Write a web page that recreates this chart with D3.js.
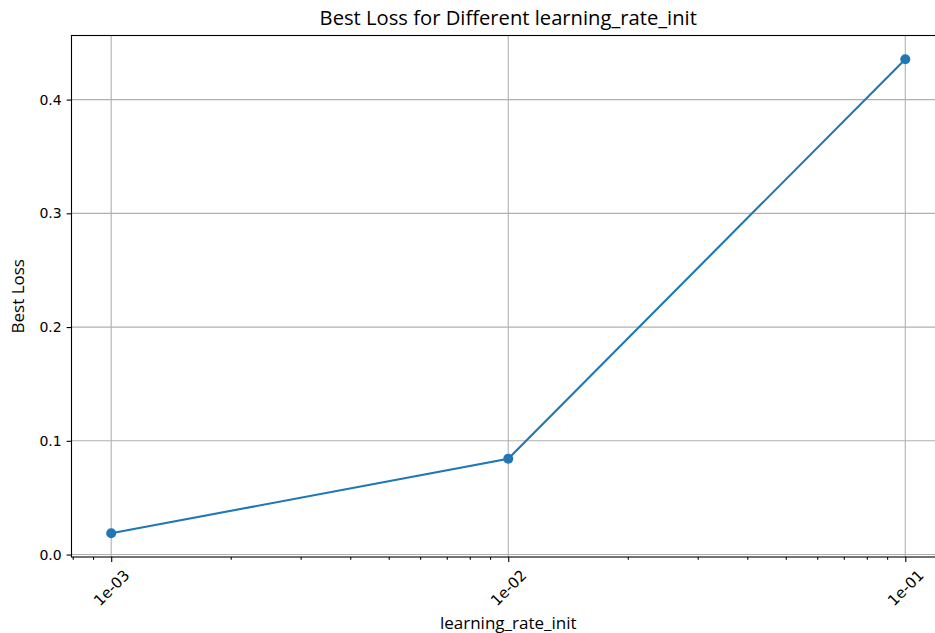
<!DOCTYPE html>
<html>
<head>
<meta charset="utf-8">
<script src="https://cdn.jsdelivr.net/npm/d3@7"></script>
<style>
  body { margin: 0; background: #fff; }
  svg { display: block; }
  .axis path { display: none; }
  .axis line { stroke: #000; stroke-width: 1.1; }
  .axis text { font-family: "DejaVu Sans", sans-serif; font-size: 14px; fill: #000; }
  .xaxis text { font-size: 15px; }
  .grid line { stroke: #b0b0b0; stroke-width: 1.1; }
  .label { font-family: "Open Sans", sans-serif; fill: #000; }
</style>
</head>
<body>
<script>
// values
var learningRates = [0.001, 0.01, 0.1];
var bestLoss = [0.0187, 0.0843, 0.4355];
var xTicks = [0.001, 0.01, 0.1];
var xTickLabels = ['1e-03', '1e-02', '1e-01'];
var yTicks = [0, 0.1, 0.2, 0.3, 0.4];

var width = 935, height = 633;
var plot = { left: 71.5, right: 945, top: 35.5, bottom: 557 };

var svg = d3.select('body').append('svg')
	.attr('width', width)
	.attr('height', height);

// matplotlib style 5% margins
var lx = d3.extent(learningRates).map(Math.log10);
var padX = (lx[1] - lx[0]) * 0.05;
var x = d3.scaleLog()
	.domain([Math.pow(10, lx[0] - padX), Math.pow(10, lx[1] + padX)])
	.range([plot.left, plot.right]);

var ey = d3.extent(bestLoss);
var padY = (ey[1] - ey[0]) * 0.05;
var y = d3.scaleLinear()
	.domain([ey[0] - padY, ey[1] + padY])
	.range([plot.bottom, plot.top]);

// grid
var grid = svg.append('g').attr('class', 'grid');
grid.selectAll('.gx').data(xTicks).enter().append('line')
	.attr('x1', function(d) { return x(d); })
	.attr('x2', function(d) { return x(d); })
	.attr('y1', plot.top).attr('y2', plot.bottom);
grid.selectAll('.gy').data(yTicks).enter().append('line')
	.attr('x1', plot.left).attr('x2', plot.right)
	.attr('y1', function(d) { return y(d); })
	.attr('y2', function(d) { return y(d); });

// minor ticks on the log axis
var minorTicks = x.ticks().filter(function(d) { return xTicks.indexOf(d) < 0; });
svg.append('g')
	.attr('class', 'axis')
	.attr('transform', 'translate(0,' + plot.bottom + ')')
	.call(d3.axisBottom(x).tickValues(minorTicks).tickSize(2.8).tickFormat(''));

var xAxis = svg.append('g')
	.attr('class', 'axis xaxis')
	.attr('transform', 'translate(0,' + plot.bottom + ')')
	.call(d3.axisBottom(x).tickValues(xTicks).tickSize(4.9)
		.tickFormat(function(d, i) { return xTickLabels[i]; }));
xAxis.selectAll('text')
	.attr('y', 0).attr('dy', 0)
	.attr('text-anchor', 'middle')
	.attr('dominant-baseline', 'central')
	.attr('transform', 'translate(0,31) rotate(-45)');

svg.append('g')
	.attr('class', 'axis')
	.attr('transform', 'translate(' + plot.left + ',0)')
	.call(d3.axisLeft(y).tickValues(yTicks).tickSize(4.9).tickPadding(4.9)
		.tickFormat(d3.format('.1f')));

// spines
svg.append('rect')
	.attr('x', plot.left).attr('y', plot.top)
	.attr('width', plot.right - plot.left)
	.attr('height', plot.bottom - plot.top)
	.attr('fill', 'none')
	.attr('stroke', '#000')
	.attr('stroke-width', 1.1);

// series
var pts = learningRates.map(function(d, i) { return [d, bestLoss[i]]; });
svg.append('path')
	.datum(pts)
	.attr('fill', 'none')
	.attr('stroke', '#1f77b4')
	.attr('stroke-width', 2.1)
	.attr('d', d3.line()
		.x(function(d) { return x(d[0]); })
		.y(function(d) { return y(d[1]); }));

svg.selectAll('.dot').data(pts).enter().append('circle')
	.attr('cx', function(d) { return x(d[0]); })
	.attr('cy', function(d) { return y(d[1]); })
	.attr('r', 5)
	.attr('fill', '#1f77b4');

// labels
var cx = (plot.left + plot.right) / 2;
svg.append('text')
	.attr('class', 'label')
	.attr('x', cx).attr('y', 25)
	.attr('text-anchor', 'middle')
	.style('font-size', '20.2px')
	.text('Best Loss for Different learning_rate_init');

svg.append('text')
	.attr('class', 'label')
	.attr('x', cx).attr('y', 629)
	.attr('text-anchor', 'middle')
	.style('font-size', '17px')
	.text('learning_rate_init');

svg.append('text')
	.attr('class', 'label')
	.attr('transform', 'translate(24,' + ((plot.top + plot.bottom) / 2) + ') rotate(-90)')
	.attr('text-anchor', 'middle')
	.style('font-size', '17px')
	.text('Best Loss');
</script>
</body>
</html>
